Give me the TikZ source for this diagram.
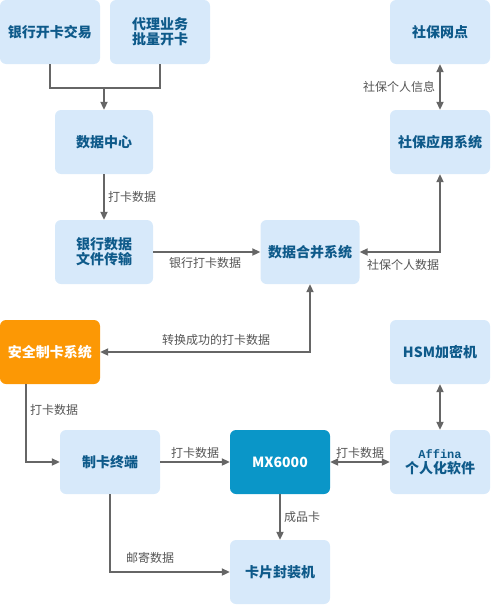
\documentclass[tikz,border=0pt]{standalone}
\usepackage{fontspec}
\setmainfont{Noto Sans CJK SC}
\newfontfamily\affinafont{Liberation Mono}
\usepackage{tikz}
\usetikzlibrary{arrows.meta}

\definecolor{boxblue}{HTML}{D7E9FA}
\definecolor{titleblue}{HTML}{0E5A8A}
\definecolor{safeorange}{HTML}{FC9805}
\definecolor{mxblue}{HTML}{0A96C8}
\definecolor{linegray}{HTML}{666666}
\definecolor{labelgray}{HTML}{555555}

\begin{document}
\begin{tikzpicture}[
		x=1pt, y=-1pt,
		every node/.style={font=\fontsize{12}{14}\selectfont, text=labelgray, inner sep=1pt},
		box/.style={rectangle, rounded corners=6pt, fill=boxblue, minimum width=100pt, minimum height=64pt,
			align=center, text=titleblue, font=\fontsize{14}{15}\selectfont\bfseries},
		safebox/.style={box, fill=safeorange, text=white},
		mxbox/.style={box, fill=mxblue, text=white},
		link/.style={draw=linegray, line width=2pt, -{Triangle[length=8pt, width=7pt]}},
		twoway/.style={link, {Triangle[length=8pt, width=7pt]}-{Triangle[length=8pt, width=7pt]}},
		plain/.style={draw=linegray, line width=2pt}
	]
  \useasboundingbox (0, 0) rectangle (490, 605);

  \node (bank) [box] at (50, 32) {银行开卡交易};
  \node (agent) [box] at (160, 32) {代理业务\\批量开卡};
  \node (center) [box, minimum width=98pt] at (104, 142) {数据中心};
  \node (transfer) [box, minimum width=98pt] at (104, 252) {银行数据\\文件传输};
  \node (merge) [box, minimum width=99pt] at (310, 252) {数据合并系统};
  \node (sbnet) [box] at (440, 32) {社保网点};
  \node (sbapp) [box] at (440, 142) {社保应用系统};
  \node (safe) [safebox] at (50, 352) {安全制卡系统};
  \node (hsm) [box] at (440, 352) {HSM加密机};
  \node (terminal) [box] at (110, 462) {制卡终端};
  \node (mx) [mxbox] at (280, 462) {MX6000};
  \node (affina) [box] at (440, 462) {{\affinafont\bfseries\fontsize{12}{12}\selectfont Affina}\\个人化软件};
  \node (pack) [box] at (280, 572) {卡片封装机};

  \coordinate (fork) at (104, 88);
  \draw [plain] (bank.south) |- (fork) -| (agent.south);
  \draw [link] (fork) -- (center.north);
  \draw [link] (center) -- node [right, xshift=2pt] (l_center) {打卡数据} (transfer);
  \draw [link] (transfer) -- (merge);
  \node (l_bank) at (205, 263) {银行打卡数据};
  \draw [twoway] (sbapp.south) |- (merge.east);
  \node (l_sbdata) at (403, 265) {社保个人数据};
  \draw [twoway] (sbnet) -- node [left, xshift=-3pt] (l_sbinfo) {社保个人信息} (sbapp);
  \draw [twoway] (merge.south) |- (safe.east);
  \node (l_convert) at (216, 340) {转换成功的打卡数据};
  \draw [link] (safe.south -| 26, 0) |- (terminal.west);
  \node (l_safe) [right] at (29, 410) {打卡数据};
  \draw [link] (terminal) -- node [above, yshift=2pt] (l_term) {打卡数据} (mx);
  \draw [twoway] (mx) -- node [above, yshift=2pt] (l_mx) {打卡数据} (affina);
  \draw [twoway] (hsm) -- (affina);
  \draw [link] (mx) -- node [right, xshift=2pt] (l_mx_out) {成品卡} (pack);
  \draw [link] (terminal.south) |- (pack.west);
  \node (l_mail) at (150, 558) {邮寄数据};
\end{tikzpicture}
\end{document}
